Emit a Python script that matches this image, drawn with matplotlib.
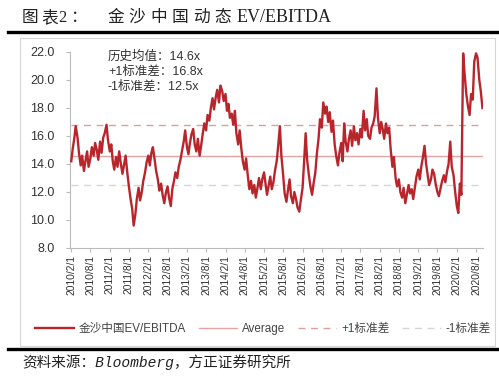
import matplotlib
matplotlib.use("Agg")
import matplotlib.pyplot as plt
from matplotlib.lines import Line2D
from matplotlib.patches import Rectangle
import pandas as pd

plt.rcParams['font.family'] = ['Liberation Sans', 'Noto Sans CJK SC', 'DejaVu Sans']

# ---- data: semi-monthly EV/EBITDA readings (1st and 16th of each month) ----
start_date = "2010-02-01"
v2010 = [14.2, 15.1, 15.8, 16.7, 15.9, 14.8, 13.9, 14.6, 13.5, 14.2, 14.9, 13.8,
         14.4, 15.2, 14.6, 15.5, 15.0, 14.3, 15.6, 14.8, 15.9, 16.2]
v2011 = [16.8, 15.7, 14.9, 15.4, 14.2, 13.6, 14.5, 13.8, 14.9, 14.1, 13.3, 13.9,
         14.6, 13.5, 12.4, 11.6, 10.8, 9.6, 10.4, 11.5, 12.3, 11.4, 12.0, 12.8]
v2012 = [13.4, 14.1, 14.6, 13.9, 14.8, 15.2, 14.3, 13.5, 12.9, 12.1, 12.6, 11.8,
         11.2, 11.9, 12.4, 11.6, 11.0, 12.2, 12.8, 13.4, 13.0, 13.8, 14.3, 14.9]
v2013 = [15.6, 16.4, 15.2, 14.7, 15.5, 16.1, 16.5, 15.4, 14.9, 15.8, 14.6, 15.3,
         16.2, 16.9, 16.4, 17.5, 17.1, 18.0, 18.7, 17.9, 18.8, 19.3, 18.4, 19.6]
v2014 = [19.2, 18.5, 19.0, 17.8, 18.3, 17.3, 17.6, 16.8, 17.8, 16.2, 15.4, 16.4,
         15.1, 14.2, 13.6, 14.4, 13.1, 12.2, 12.8, 11.9, 12.5, 11.6, 12.3, 13.0]
v2015 = [12.2, 12.9, 13.4, 12.6, 11.8, 12.4, 13.1, 12.2, 12.7, 13.5, 14.2, 15.3,
         16.7, 14.6, 13.2, 11.9, 11.3, 12.1, 12.9, 11.7, 11.2, 12.0, 11.5, 10.9]
v2016 = [10.6, 11.4, 12.3, 14.1, 16.2, 14.3, 13.2, 12.4, 11.8, 12.6, 13.4, 14.7,
         15.8, 17.2, 16.6, 18.4, 17.6, 18.1, 17.0, 17.7, 16.3, 17.1, 15.4, 14.6]
v2017 = [13.9, 14.8, 15.5, 14.2, 16.9, 15.6, 14.9, 15.8, 16.4, 15.3, 16.7, 15.7,
         16.2, 15.4, 16.5, 15.9, 17.8, 16.4, 17.2, 16.0, 15.8, 16.6, 16.9, 17.4]
v2018 = [19.4, 17.3, 16.2, 17.0, 16.5, 15.8, 16.9, 16.2, 16.6, 15.1, 13.8, 14.5,
         13.0, 12.4, 12.9, 12.0, 11.6, 12.3, 11.2, 11.8, 12.5, 11.9, 12.2, 11.5]
v2019 = [12.4, 13.1, 13.6, 12.9, 13.8, 14.4, 15.3, 14.1, 13.2, 12.5, 12.9, 13.6,
         13.3, 12.6, 12.0, 11.7, 12.3, 12.8, 13.2, 12.7, 13.5, 14.0, 15.6, 13.8]
v2020 = [13.2, 12.1, 11.0, 10.5, 12.6, 11.8, 21.9, 20.4, 19.0, 18.2, 17.5, 19.0,
         18.6, 21.3, 21.9, 21.6, 20.0, 19.2, 18.0]

hist_mean = 14.6
plus_1sd = 16.8
minus_1sd = 12.5

tick_labels = ["2010/2/1", "2010/8/1", "2011/2/1", "2011/8/1", "2012/2/1", "2012/8/1",
               "2013/2/1", "2013/8/1", "2014/2/1", "2014/8/1", "2015/2/1", "2015/8/1",
               "2016/2/1", "2016/8/1", "2017/2/1", "2017/8/1", "2018/2/1", "2018/8/1",
               "2019/2/1", "2019/8/1", "2020/2/1", "2020/8/1"]
y_ticks = [8.0, 10.0, 12.0, 14.0, 16.0, 18.0, 20.0, 22.0]

values = v2010 + v2011 + v2012 + v2013 + v2014 + v2015 + v2016 + v2017 + v2018 + v2019 + v2020
dates = pd.date_range(start_date, periods=len(values), freq="SMS")

# ---- figure ----
W, H = 499, 382
fig = plt.figure(figsize=(W / 100, H / 100), dpi=100)
fig.patch.set_facecolor("white")

def fx(px):
    return px / W

def fy(py):
    return 1 - py / H

# chart frame
fig.add_artist(Rectangle((fx(20), fy(346)), fx(495) - fx(20), fy(38) - fy(346),
                         transform=fig.transFigure, fill=False, edgecolor="#d6d6d6", lw=0.8))
# thick rules
fig.add_artist(Line2D([fx(8), 1.0], [fy(32), fy(32)], color="black", lw=2.4, transform=fig.transFigure))
fig.add_artist(Line2D([fx(8), 1.0], [fy(349), fy(349)], color="black", lw=2.4, transform=fig.transFigure))

# title, spaced like the reference
title_cjk = ["图", "表", "2", "：", "金", "沙", "中", "国", "动", "态"]
title_x = [22, 41, 58, 70, 107, 128.5, 150, 171.5, 193, 214.5]
for ch, x in zip(title_cjk, title_x):
    fig.text(fx(x), fy(18), ch, fontsize=12, color="#222222", va="center", ha="left",
             family=["Liberation Serif", "Noto Sans CJK SC"])
fig.text(fx(237), fy(18), "EV/EBITDA", fontsize=13, color="#222222", va="center", ha="left",
         family=["Liberation Serif"])

fig.text(fx(22), fy(362), "资料来源：Bloomberg，方正证券研究所", fontsize=10.5, color="#222222",
         va="center", ha="left", style="italic", family=["Liberation Mono", "Noto Sans CJK SC"])

ax = fig.add_axes([fx(70), fy(248), fx(483) - fx(70), fy(52) - fy(248)])

main_color = "#b8262c"
ln_main, = ax.plot(dates, values, color=main_color, lw=1.7, zorder=3)
ln_avg, = ax.plot(dates, [hist_mean] * len(dates), color="#e3a3a3", lw=1.0, zorder=2)
ln_p1, = ax.plot(dates, [plus_1sd] * len(dates), color="#d9a0a0", lw=1.0, ls=(0, (5, 4)), zorder=2)
ln_m1, = ax.plot(dates, [minus_1sd] * len(dates), color="#d6d6d6", lw=1.0, ls=(0, (5, 4)), zorder=2)

ax.set_ylim(8, 22)
ax.set_yticks(y_ticks)
ax.set_yticklabels([f"{v:.1f}" for v in y_ticks], fontsize=9, color="#333333")

tick_dates = [pd.Timestamp(t.replace("/", "-")) for t in tick_labels]
ax.set_xticks(tick_dates)
ax.set_xticklabels(tick_labels, rotation=90, fontsize=7.4, color="#333333")
ax.set_xlim(pd.Timestamp("2010-01-20"), pd.Timestamp("2020-10-06"))

for s in ["top", "right"]:
    ax.spines[s].set_visible(False)
for s in ["left", "bottom"]:
    ax.spines[s].set_color("#bbbbbb")
    ax.spines[s].set_linewidth(0.8)
ax.tick_params(axis="both", colors="#bbbbbb", length=3, width=0.8, labelcolor="#333333")
ax.tick_params(axis="y", pad=8)
ax.tick_params(axis="x", pad=2)

# annotation text
fig.text(fx(108), fy(57), "历史均值：14.6x", fontsize=9, color="#333333", va="center")
fig.text(fx(108), fy(72), "+1标准差：16.8x", fontsize=9, color="#333333", va="center")
fig.text(fx(108), fy(87), "-1标准差：12.5x", fontsize=9, color="#333333", va="center")

fig.legend([ln_main, ln_avg, ln_p1, ln_m1],
           ["金沙中国EV/EBITDA", "Average", "+1标准差", "-1标准差"],
           loc="center", bbox_to_anchor=(fx(263), fy(329)), ncol=4, frameon=False,
           fontsize=8.4, handlelength=3.3, handletextpad=0.4, columnspacing=1.1,
           labelcolor="#444444")

fig.savefig("out.png", dpi=100, facecolor="white")
